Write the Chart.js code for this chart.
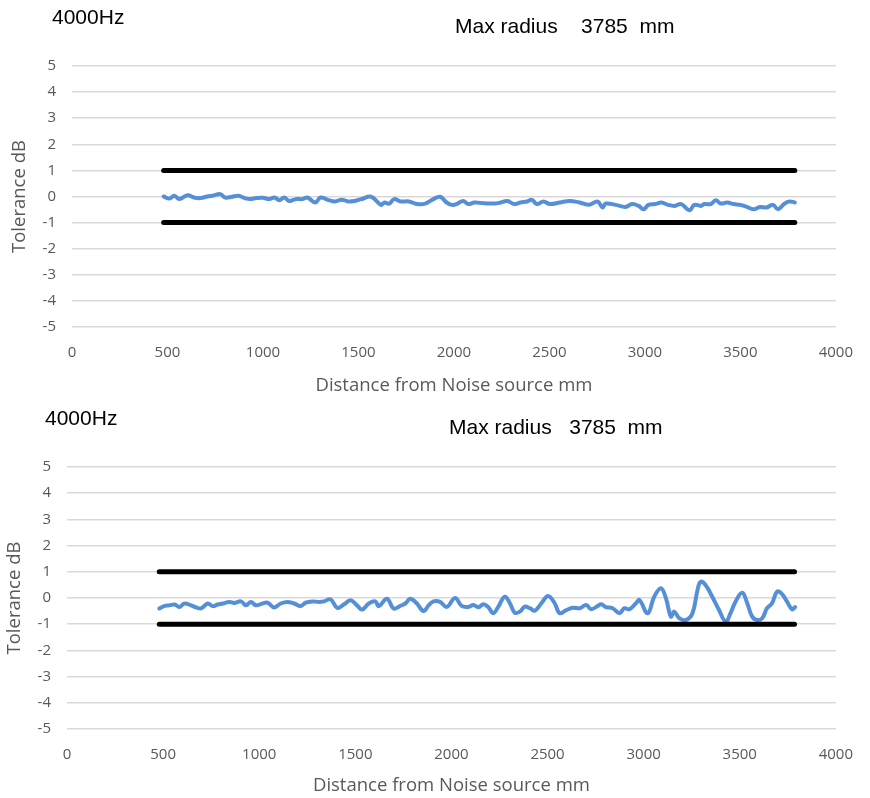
<!DOCTYPE html>
<html>
<head>
<meta charset="utf-8">
<script src="https://cdn.jsdelivr.net/npm/chart.js@4.4.1/dist/chart.umd.min.js"></script>
<style>
  body { margin: 0; background: #fff; width: 870px; height: 798px; position: relative; overflow: hidden; }
  .box { position: absolute; left: 0; width: 870px; }
  .lbl { position: absolute; font-family: "Liberation Sans", Arial, sans-serif; font-size: 21px; color: #000; white-space: pre; }
</style>
</head>
<body>
<div class="box" style="top:0;height:400px"><canvas id="chartTop" width="870" height="400"></canvas></div>
<div class="box" style="top:400px;height:398px"><canvas id="chartBottom" width="870" height="398"></canvas></div>
<div class="lbl" style="left:52px;top:5px">4000Hz</div>
<div class="lbl" style="left:455px;top:14px">Max radius    3785  mm</div>
<div class="lbl" style="left:45px;top:406px">4000Hz</div>
<div class="lbl" style="left:449px;top:415px">Max radius   3785  mm</div>
<script>
// x ticks and limits
const xTicks = [0, 500, 1000, 1500, 2000, 2500, 3000, 3500, 4000];
const yTicks = [5, 4, 3, 2, 1, 0, -1, -2, -3, -4, -5];

// tolerance band +/- 1 dB
const tolDist = [480, 3785];
const tolUpper = [1, 1];
const tolLower = [-1, -1];

// top chart - measured deviation
const topDist = [480, 510, 536, 562, 605, 639, 674, 708, 742, 777, 802, 837, 871, 905, 931, 966, 1000, 1034, 1060, 1086,
  1112, 1137, 1172, 1206, 1232, 1275, 1301, 1344, 1378, 1412, 1447, 1481, 1515, 1567, 1618, 1636, 1661, 1687, 1722, 1764,
  1807, 1850, 1893, 1928, 1962, 1988, 2014, 2048, 2074, 2108, 2160, 2211, 2245, 2280, 2314, 2349, 2383, 2409, 2434, 2469,
  2503, 2555, 2606, 2658, 2709, 2752, 2778, 2795, 2847, 2898, 2933, 2967, 2993, 3019, 3053, 3087, 3122, 3156, 3190, 3233,
  3259, 3293, 3311, 3345, 3371, 3397, 3431, 3465, 3500, 3534, 3568, 3603, 3637, 3671, 3697, 3731, 3757, 3785];
const topDev = [0.00, -0.08, 0.03, -0.10, 0.05, -0.04, -0.06, 0.00, 0.04, 0.09, -0.04, -0.01, 0.03, -0.06, -0.10, -0.06, -0.05, -0.10, -0.04, -0.14,
  -0.04, -0.17, -0.10, -0.10, -0.04, -0.23, -0.04, -0.14, -0.19, -0.12, -0.19, -0.17, -0.10, -0.01, -0.32, -0.23, -0.27, -0.10, -0.19, -0.19,
  -0.29, -0.27, -0.10, -0.01, -0.23, -0.32, -0.29, -0.17, -0.29, -0.23, -0.26, -0.27, -0.23, -0.17, -0.29, -0.23, -0.19, -0.13, -0.29, -0.19,
  -0.29, -0.23, -0.17, -0.23, -0.32, -0.19, -0.42, -0.27, -0.32, -0.40, -0.29, -0.36, -0.49, -0.32, -0.29, -0.23, -0.32, -0.36, -0.29, -0.53,
  -0.32, -0.36, -0.29, -0.29, -0.14, -0.27, -0.23, -0.29, -0.32, -0.40, -0.49, -0.40, -0.42, -0.32, -0.49, -0.27, -0.19, -0.23];

// bottom chart - measured deviation
const botDist = [480, 508, 534, 560, 585, 611, 646, 672, 698, 732, 758, 784, 810, 844, 870, 905, 931, 957, 983, 1017,
  1043, 1078, 1112, 1147, 1181, 1216, 1242, 1276, 1311, 1337, 1371, 1406, 1440, 1475, 1509, 1535, 1570, 1604, 1622, 1665,
  1699, 1734, 1760, 1786, 1820, 1855, 1881, 1907, 1941, 1976, 2019, 2053, 2088, 2114, 2140, 2166, 2192, 2218, 2244, 2278,
  2304, 2330, 2356, 2382, 2408, 2434, 2468, 2503, 2537, 2563, 2598, 2632, 2667, 2701, 2727, 2762, 2779, 2805, 2839, 2874,
  2900, 2926, 2960, 2978, 3021, 3055, 3090, 3116, 3142, 3159, 3185, 3219, 3254, 3280, 3297, 3323, 3357, 3392, 3427, 3452,
  3478, 3513, 3539, 3565, 3591, 3617, 3642, 3668, 3694, 3720, 3746, 3772, 3788];
const botDev = [-0.40, -0.30, -0.28, -0.25, -0.34, -0.21, -0.28, -0.36, -0.40, -0.21, -0.31, -0.25, -0.21, -0.15, -0.19, -0.13, -0.28, -0.15, -0.28, -0.21,
  -0.18, -0.36, -0.21, -0.15, -0.21, -0.31, -0.18, -0.13, -0.15, -0.13, -0.05, -0.38, -0.25, -0.09, -0.28, -0.44, -0.21, -0.13, -0.31, -0.03,
  -0.40, -0.30, -0.21, -0.03, -0.21, -0.50, -0.28, -0.13, -0.15, -0.34, 0.00, -0.30, -0.34, -0.27, -0.35, -0.24, -0.35, -0.58, -0.33, 0.05,
  -0.20, -0.56, -0.52, -0.33, -0.39, -0.48, -0.20, 0.08, -0.20, -0.58, -0.46, -0.37, -0.39, -0.27, -0.43, -0.30, -0.24, -0.35, -0.39, -0.58,
  -0.39, -0.43, -0.20, -0.08, -0.58, 0.05, 0.37, -0.01, -0.71, -0.52, -0.77, -0.84, -0.58, 0.30, 0.62, 0.49, 0.05, -0.46, -0.90, -0.58,
  -0.14, 0.20, -0.20, -0.71, -0.84, -0.77, -0.39, -0.20, 0.24, 0.15, -0.14, -0.43, -0.35];

const tickFont = { family: "'Open Sans', sans-serif", size: 15 };
const titleFont = { family: "'Open Sans', sans-serif", size: 18.5 };

function pairs(xs, ys) {
    return xs.map((x, i) => ({ x: x, y: ys[i] }));
}

function makeChart(id, dist, dev, geo) {
    const ctx = document.getElementById(id).getContext('2d');
    return new Chart(ctx, {
        type: 'line',
        data: {
            datasets: [
                { data: pairs(tolDist, tolUpper), borderColor: '#000', borderWidth: 5, borderCapStyle: 'round', pointRadius: 0 },
                { data: pairs(tolDist, tolLower), borderColor: '#000', borderWidth: 5, borderCapStyle: 'round', pointRadius: 0 },
                { data: pairs(dist, dev), borderColor: '#5590d6', borderWidth: 4, borderCapStyle: 'round', borderJoinStyle: 'round',
                  pointRadius: 0, tension: 0.4 }
            ]
        },
        options: {
            responsive: false,
            animation: false,
            layout: { padding: { top: geo.top, right: geo.right, left: 0, bottom: 0 } },
            plugins: { legend: { display: false }, tooltip: { enabled: false } },
            scales: {
                x: {
                    type: 'linear', min: 0, max: 4000,
                    afterFit: (s) => { s.height = geo.xh; },
                    afterBuildTicks: (s) => { s.ticks = xTicks.map(v => ({ value: v })); },
                    grid: { display: false, drawTicks: false },
                    border: { display: false },
                    ticks: { color: '#595959', font: tickFont, padding: 17, maxRotation: 0, callback: (v) => String(v) },
                    title: { display: true, text: 'Distance from Noise source mm', color: '#595959', font: titleFont,
                             padding: { top: 4, bottom: geo.xtb } }
                },
                y: {
                    min: -5, max: 5,
                    afterFit: (s) => { s.width = geo.left; },
                    afterBuildTicks: (s) => { s.ticks = yTicks.map(v => ({ value: v })); },
                    grid: { color: '#d9d9d9', lineWidth: 1.5, drawTicks: false },
                    border: { display: false },
                    ticks: { color: '#595959', font: tickFont, padding: 16, callback: (v) => String(v) },
                    title: { display: true, text: 'Tolerance dB', color: '#595959', font: titleFont,
                             padding: { top: geo.ytp, bottom: 0 } }
                }
            }
        }
    });
}

makeChart('chartTop', topDist, topDev, { left: 72, right: 22, top: 66, xh: 73, xtb: 3, ytp: 9 });
makeChart('chartBottom', botDist, botDev, { left: 67, right: 30, top: 67, xh: 69, xtb: 1, ytp: 4 });
</script>
</body>
</html>
